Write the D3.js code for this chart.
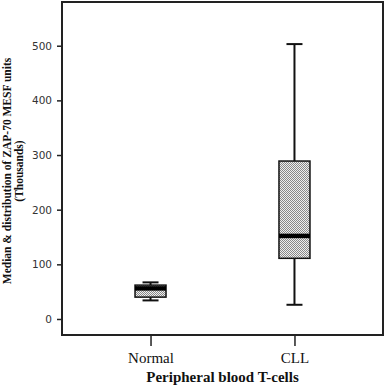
<!DOCTYPE html>
<html>
<head>
<meta charset="utf-8">
<script src="https://cdn.jsdelivr.net/npm/d3@7"></script>
<style>
body { margin: 0; background: #fff; }
</style>
</head>
<body>
<script>
// data (thousands of MESF units)
var groups = ["Normal", "CLL"];
var whiskerLow = [34, 26];
var q1 = [40, 111];
var median = [56, 152];
var q3 = [62, 289];
var whiskerHigh = [67, 503];
var yTicks = [0, 100, 200, 300, 400, 500];

var width = 385, height = 388;
var margin = {top: 2, right: 2, bottom: 53, left: 62};
var w = width - margin.left - margin.right;
var h = height - margin.top - margin.bottom;

var svg = d3.select("body").append("svg")
	.attr("width", width)
	.attr("height", height);

// stipple fill of the boxes
var pat = svg.append("defs").append("pattern")
	.attr("id", "dots")
	.attr("width", 2).attr("height", 2)
	.attr("patternUnits", "userSpaceOnUse");
pat.append("rect").attr("width", 2).attr("height", 2).attr("fill", "#eeeeee");
pat.append("rect").attr("width", 1).attr("height", 1).attr("fill", "#888");
pat.append("rect").attr("x", 1).attr("y", 1).attr("width", 1).attr("height", 1).attr("fill", "#888");

var g = svg.append("g")
	.attr("transform", "translate(" + margin.left + "," + margin.top + ")");

var x = d3.scalePoint().domain(groups).range([0, w]).padding(0.615);
var y = d3.scaleLinear().domain([-29.3, 580]).range([h, 0]);

// axes
var leftAxis = d3.axisLeft(y).tickValues(yTicks).tickSize(5).tickSizeOuter(0).tickPadding(5);
var ya = g.append("g").call(leftAxis);
ya.select(".domain").remove();
ya.selectAll("line").attr("stroke", "#222").attr("stroke-width", 1.5);
ya.selectAll("text")
	.attr("font-family", "DejaVu Sans, sans-serif")
	.attr("font-size", "10.5px")
	.attr("fill", "#333");

var bottomAxis = d3.axisBottom(x).tickSize(11).tickSizeOuter(0).tickPadding(6);
var xa = g.append("g").attr("transform", "translate(0," + h + ")").call(bottomAxis);
xa.select(".domain").remove();
xa.selectAll("line").attr("stroke", "#222").attr("stroke-width", 1.5);
xa.selectAll("text")
	.attr("font-family", "Liberation Serif, serif")
	.attr("font-size", "15px")
	.attr("fill", "#111");

// frame
g.append("rect")
	.attr("x", 0).attr("y", 0)
	.attr("width", w).attr("height", h)
	.attr("fill", "none")
	.attr("stroke", "#222")
	.attr("stroke-width", 2);

// boxes
var boxW = 31, capW = 16;
var boxes = g.selectAll(".box").data(groups).enter().append("g").attr("class", "box");

boxes.append("line")
	.attr("x1", d => x(d)).attr("x2", d => x(d))
	.attr("y1", (d, i) => y(whiskerLow[i])).attr("y2", (d, i) => y(whiskerHigh[i]))
	.attr("stroke", "#111").attr("stroke-width", 2);

boxes.append("line")
	.attr("x1", d => x(d) - capW / 2).attr("x2", d => x(d) + capW / 2)
	.attr("y1", (d, i) => y(whiskerHigh[i])).attr("y2", (d, i) => y(whiskerHigh[i]))
	.attr("stroke", "#111").attr("stroke-width", 2);

boxes.append("line")
	.attr("x1", d => x(d) - capW / 2).attr("x2", d => x(d) + capW / 2)
	.attr("y1", (d, i) => y(whiskerLow[i])).attr("y2", (d, i) => y(whiskerLow[i]))
	.attr("stroke", "#111").attr("stroke-width", 2);

boxes.append("rect")
	.attr("x", d => x(d) - boxW / 2)
	.attr("y", (d, i) => y(q3[i]))
	.attr("width", boxW)
	.attr("height", (d, i) => y(q1[i]) - y(q3[i]))
	.attr("fill", "url(#dots)")
	.attr("stroke", "#111").attr("stroke-width", 1.5);

boxes.append("line")
	.attr("x1", d => x(d) - boxW / 2).attr("x2", d => x(d) + boxW / 2)
	.attr("y1", (d, i) => y(median[i])).attr("y2", (d, i) => y(median[i]))
	.attr("stroke", "#000").attr("stroke-width", 4.5);

// axis titles
svg.append("text")
	.attr("x", margin.left + w / 2)
	.attr("y", 382)
	.attr("text-anchor", "middle")
	.attr("font-family", "Liberation Serif, serif")
	.attr("font-weight", "bold")
	.attr("font-size", "15px")
	.attr("fill", "#111")
	.text("Peripheral blood T-cells");

var yl = svg.append("text")
	.attr("transform", "translate(11,171) rotate(-90)")
	.attr("text-anchor", "middle")
	.attr("font-family", "Liberation Serif, serif")
	.attr("font-weight", "bold")
	.attr("font-size", "11.5px")
	.attr("fill", "#111");
yl.append("tspan").attr("x", 0).attr("y", 0).text("Median & distribution of ZAP-70 MESF units");
yl.append("tspan").attr("x", 0).attr("y", 12).text("(Thousands)");
</script>
</body>
</html>
